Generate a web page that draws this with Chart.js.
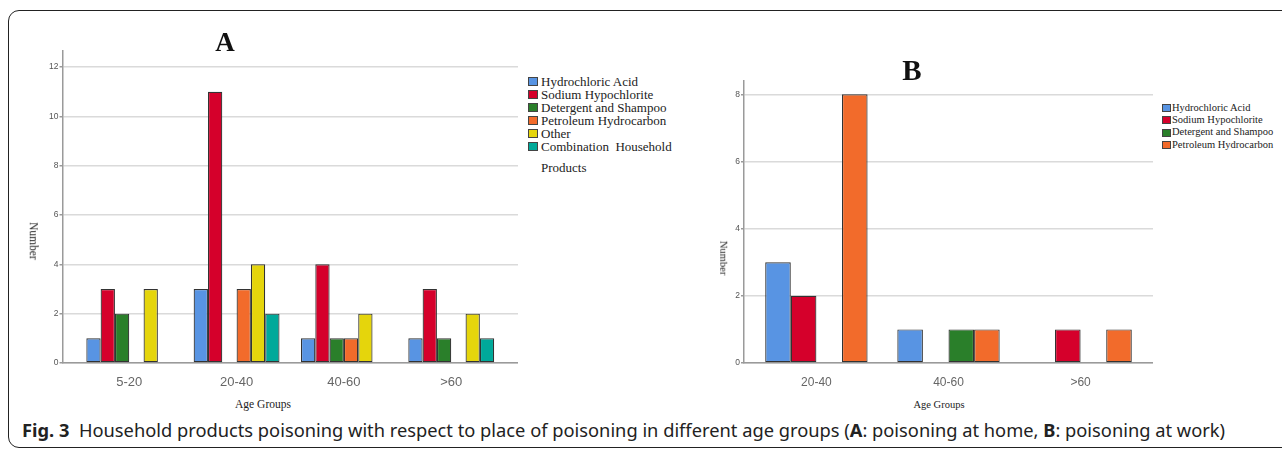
<!DOCTYPE html>
<html>
<head>
<meta charset="utf-8">
<script src="https://cdn.jsdelivr.net/npm/chart.js@4.4.1/dist/chart.umd.min.js"></script>
<style>
  html, body { margin: 0; padding: 0; background: #fff; }
  body { width: 1282px; height: 449px; position: relative; overflow: hidden; }
  .frame { position: absolute; left: 8px; top: 10px; width: 1320px; height: 436px;
           border: 1px solid #222; border-radius: 11px; }
  .box { position: absolute; }
  .ttl { position: absolute; font-family: "Liberation Serif", serif; font-weight: bold; color: #111;
         transform: translate(-50%, -50%); line-height: 1; }
  .axt { position: absolute; font-family: "Liberation Serif", serif; color: #222; white-space: nowrap;
         line-height: 1; }
  .legend { position: absolute; font-family: "Liberation Serif", serif; color: #222; white-space: pre; }
  .legend div { display: flex; align-items: center; }
  .legend span.sw { display: inline-block; box-sizing: border-box; border: 1px solid #444; }
  .caption { position: absolute; left: 22px; top: 418px; font-family: "Noto Sans", sans-serif;
             font-size: 18.3px; color: #222; white-space: pre; line-height: 24px; }
</style>
</head>
<body>
<div class="frame"></div>

<div class="box" style="left:0px; top:0px; width:518px; height:390px;"><canvas id="chartHome"></canvas></div>
<div class="box" style="left:680px; top:0px; width:473px; height:390px;"><canvas id="chartWork"></canvas></div>

<div class="ttl" style="left:225px; top:42px; font-size:27px;">A</div>
<div class="ttl" style="left:912px; top:70px; font-size:29px;">B</div>

<div class="axt" style="left:33px; top:241px; font-size:11.5px; transform: translate(-50%, -50%) rotate(90deg);">Number</div>
<div class="axt" style="left:723px; top:258px; font-size:10.5px; transform: translate(-50%, -50%) rotate(90deg);">Number</div>
<div class="axt" style="left:263px; top:405px; font-size:11.5px; transform: translate(-50%, -50%);">Age Groups</div>
<div class="axt" style="left:939px; top:405px; font-size:10.5px; transform: translate(-50%, -50%);">Age Groups</div>

<div class="legend" id="legendHome" style="left:528px; top:75px; font-size:13px; line-height:13px;"></div>
<div class="legend" id="legendWork" style="left:1162px; top:102px; font-size:10.5px; line-height:12.2px;"></div>

<div class="caption"><b>Fig. 3</b>  Household products poisoning with respect to place of poisoning in different age groups (<b>A</b>: poisoning at home, <b>B</b>: poisoning at work)</div>

<script>
'use strict';

// A: poisoning at home
const ageGroupsHome = ['5-20', '20-40', '40-60', '>60'];
const homeHydrochloric = [1, 3, 1, 1];
const homeSodium = [3, 11, 4, 3];
const homeDetergent = [2, 0, 1, 1];
const homePetroleum = [0, 3, 1, 0];
const homeOther = [3, 4, 2, 2];
const homeCombination = [0, 2, 0, 1];
const yTicksHome = [0, 2, 4, 6, 8, 10, 12];

// B: poisoning at work
const ageGroupsWork = ['20-40', '40-60', '>60'];
const workHydrochloric = [3, 1, 0];
const workSodium = [2, 0, 1];
const workDetergent = [0, 1, 0];
const workPetroleum = [8, 1, 1];
const yTicksWork = [0, 2, 4, 6, 8];

const productNames = ['Hydrochloric Acid', 'Sodium Hypochlorite', 'Detergent and Shampoo',
    'Petroleum Hydrocarbon', 'Other', 'Combination  Household'];

const seriesColors = ['#5894e3', '#d5002b', '#2a7f2a', '#f26b2b', '#e5d50c', '#00a99a'];

function buildChart(canvasId, labels, series, yTicks, o) {
    const datasets = series.map((vals, k) => ({
        label: productNames[k],
        // zero counts have no bar in the original
        data: vals.map((v, i) => ({ x: i, y: v === 0 ? null : v })),
        backgroundColor: seriesColors[k],
        borderColor: '#333',
        borderWidth: 1.2,
        borderSkipped: false,
        categoryPercentage: o.catPct,
        barPercentage: 1
    }));

    return new Chart(document.getElementById(canvasId), {
        type: 'bar',
        data: { datasets: datasets },
        options: {
            responsive: true,
            maintainAspectRatio: false,
            animation: false,
            events: [],
            layout: { padding: { top: o.padTop, left: 0, right: 0, bottom: 0 } },
            plugins: { legend: { display: false }, tooltip: { enabled: false } },
            scales: {
                x: {
                    type: 'linear',
                    offset: false,
                    min: o.xMin,
                    max: o.xMax,
                    grid: { display: false, offset: false },
                    border: { color: '#9a9a9a', width: 1.5 },
                    ticks: {
                        autoSkip: false,
                        maxRotation: 0,
                        padding: 4,
                        color: '#666',
                        font: { family: '"Liberation Sans", sans-serif', size: o.catFont },
                        callback: v => labels[v] ?? ''
                    },
                    afterBuildTicks: s => { s.ticks = labels.map((_, i) => ({ value: i })); },
                    afterFit: s => { s.height = 27; }
                },
                y: {
                    min: 0,
                    max: o.yMax,
                    grid: { color: '#dadada', lineWidth: 1.5, tickLength: 3, tickColor: '#9a9a9a' },
                    border: { color: '#9a9a9a', width: 1.5 },
                    ticks: {
                        padding: 1,
                        color: '#555',
                        font: { family: '"Liberation Sans", sans-serif', size: 8.5 }
                    },
                    afterBuildTicks: s => { s.ticks = yTicks.map(v => ({ value: v })); },
                    afterFit: s => { s.width = o.yWidth; }
                }
            }
        }
    });
}

function buildLegend(elId, count, boxW, boxH, gap) {
    const el = document.getElementById(elId);
    for (let k = 0; k < count; k++) {
        const row = document.createElement('div');
        const sw = document.createElement('span');
        sw.className = 'sw';
        sw.style.width = boxW + 'px';
        sw.style.height = boxH + 'px';
        sw.style.marginRight = gap + 'px';
        sw.style.background = seriesColors[k];
        row.appendChild(sw);
        row.appendChild(document.createTextNode(productNames[k]));
        el.appendChild(row);
    }
    return el;
}

buildChart('chartHome', ageGroupsHome,
    [homeHydrochloric, homeSodium, homeDetergent, homePetroleum, homeOther, homeCombination],
    yTicksHome,
    { catPct: 0.8, padTop: 50.5, xMin: -0.622, xMax: 3.622, yMax: 12.67, yWidth: 62.5, catFont: 13 });

buildChart('chartWork', ageGroupsWork,
    [workHydrochloric, workSodium, workDetergent, workPetroleum],
    yTicksWork,
    { catPct: 0.775, padTop: 80.5, xMin: -0.548, xMax: 2.548, yMax: 8.41, yWidth: 64, catFont: 12 });

const legHome = buildLegend('legendHome', 6, 10, 9, 3);
const extra = document.createElement('div');
extra.style.marginTop = '8px';
extra.style.paddingLeft = '13px';
extra.textContent = 'Products';
legHome.appendChild(extra);

buildLegend('legendWork', 4, 9, 8, 1);
</script>
</body>
</html>
